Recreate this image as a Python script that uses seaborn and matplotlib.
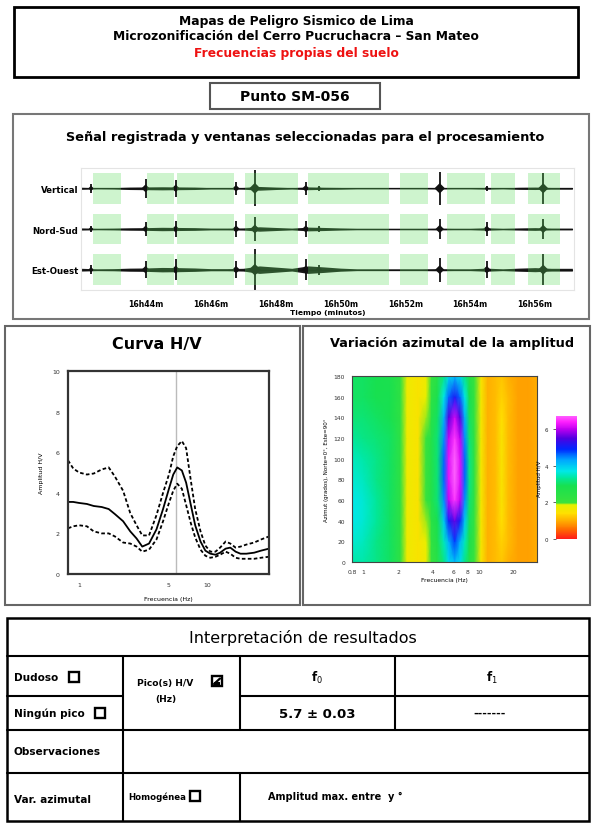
import matplotlib
matplotlib.use("Agg")
import matplotlib.pyplot as plt
import numpy as np
import seaborn as sns
from matplotlib.colors import LinearSegmentedColormap
from matplotlib.lines import Line2D
from matplotlib.patches import Rectangle
from matplotlib.ticker import FixedLocator, MultipleLocator, NullFormatter

# ── Signal record: time in minutes after 16h00 ──────────────────────
TRACE_NAMES = ["Vertical", "Nord-Sud", "Est-Ouest"]
WIN_START = [42.37, 44.05, 44.97, 47.06, 49.00, 51.83, 53.28, 54.63, 55.77]
WIN_END = [43.22, 44.88, 46.72, 48.69, 51.49, 52.69, 54.45, 55.37, 56.78]

BG_T = [42.0, 42.5, 43.0, 43.5, 44.0, 44.5, 45.0, 45.5, 46.0, 46.5, 47.0,
        47.5, 48.0, 48.5, 49.0, 49.5, 50.0, 50.5, 51.0, 51.5, 52.0, 52.5,
        53.0, 53.5, 54.0, 54.5, 55.0, 55.5, 56.0, 56.5, 57.0, 57.15]
BG_V = [0.06, 0.03, 0.04, 0.07, 0.08, 0.09, 0.08, 0.07, 0.04, 0.04, 0.05,
        0.11, 0.07, 0.04, 0.08, 0.06, 0.05, 0.03, 0.03, 0.03, 0.03, 0.03,
        0.04, 0.03, 0.03, 0.05, 0.03, 0.06, 0.07, 0.05, 0.05, 0.05]
BG_NS = [0.06, 0.04, 0.05, 0.07, 0.08, 0.10, 0.09, 0.08, 0.05, 0.05, 0.06,
         0.13, 0.09, 0.05, 0.11, 0.09, 0.06, 0.04, 0.04, 0.04, 0.04, 0.04,
         0.05, 0.04, 0.04, 0.07, 0.04, 0.06, 0.08, 0.05, 0.05, 0.05]
BG_EO = [0.08, 0.05, 0.06, 0.09, 0.10, 0.13, 0.12, 0.10, 0.06, 0.06, 0.08,
         0.22, 0.15, 0.08, 0.22, 0.16, 0.09, 0.05, 0.05, 0.05, 0.05, 0.05,
         0.06, 0.05, 0.05, 0.09, 0.05, 0.09, 0.12, 0.08, 0.08, 0.08]

EV_T = [42.31, 43.99, 44.92, 46.78, 47.36, 48.93, 49.34, 53.06, 54.51, 56.25]
EV_V = [0.25, 0.55, 0.50, 0.40, 1.05, 0.40, 0.15, 0.95, 0.15, 0.90]
EV_NS = [0.20, 0.40, 0.45, 0.45, 0.70, 0.45, 0.20, 0.60, 0.40, 0.60]
EV_EO = [0.25, 0.50, 0.60, 0.50, 1.20, 0.60, 0.30, 0.70, 0.50, 0.90]

TIME_MAJOR = [44, 46, 48, 50, 52, 54, 56]
TIME_LABELS = ["16h44m", "16h46m", "16h48m", "16h50m", "16h52m", "16h54m", "16h56m"]

# ── H/V curve ───────────────────────────────────────────────────────
HV_FREQ = [0.82, 0.9, 1.0, 1.15, 1.3, 1.5, 1.7, 1.9, 2.2, 2.5, 2.8, 3.1, 3.5,
           4.0, 4.5, 5.0, 5.4, 5.8, 6.3, 6.8, 7.4, 8.0, 8.8, 9.6, 10.5, 11.5,
           12.5, 13.8, 15.0, 16.5, 18.0, 20.0, 23.0, 26.0, 30.0]
HV_MEAN = [3.55, 3.55, 3.5, 3.45, 3.35, 3.3, 3.2, 2.95, 2.6, 2.1, 1.75, 1.35,
           1.5, 2.2, 3.2, 4.2, 4.9, 5.25, 5.1, 4.5, 3.4, 2.4, 1.6, 1.15, 1.0,
           0.95, 1.05, 1.25, 1.3, 1.1, 1.0, 1.0, 1.05, 1.15, 1.25]
HV_UP = [5.6, 5.2, 5.0, 4.9, 4.95, 5.15, 5.25, 4.8, 4.1, 3.0, 2.4, 1.9, 1.9,
         2.9, 4.0, 4.9, 5.8, 6.3, 6.55, 6.2, 4.6, 3.2, 2.1, 1.4, 1.1, 1.1,
         1.3, 1.6, 1.5, 1.3, 1.35, 1.45, 1.55, 1.7, 1.85]
HV_LO = [2.25, 2.35, 2.4, 2.35, 2.1, 2.0, 2.0, 1.85, 1.55, 1.5, 1.35, 1.1,
         1.2, 1.7, 2.6, 3.5, 4.1, 4.45, 4.2, 3.4, 2.5, 1.8, 1.2, 0.9, 0.8,
         0.85, 0.95, 1.1, 1.0, 0.8, 0.75, 0.75, 0.75, 0.8, 0.85]
F0 = 5.7

# ── Azimuthal amplitude (rows: azimuth, cols: frequency) ────────────
AZ_FREQ = [0.8, 1.0, 1.3, 1.7, 2.1, 2.4, 3.0, 3.5, 3.9, 4.4, 5.0, 5.5, 6.2,
           6.9, 7.6, 8.3, 9.2, 10.5, 12, 14, 15.8, 18, 22, 27, 33]
AZ_DEG = [0, 20, 40, 60, 80, 100, 120, 140, 160, 180]
AZ_AMP = [
    [3.4, 3.4, 3.2, 3.0, 2.3, 1.7, 1.5, 1.7, 2.1, 2.5, 3.2, 3.8, 4.1, 3.8, 3.2, 2.6, 2.0, 1.5, 1.0, 1.1, 1.2, 1.0, 0.9, 0.9, 1.0],
    [3.6, 3.5, 3.2, 3.0, 2.3, 1.7, 1.5, 1.8, 2.2, 2.7, 3.5, 4.2, 4.8, 4.2, 3.5, 2.8, 2.1, 1.6, 1.0, 1.1, 1.3, 1.1, 0.9, 0.9, 1.0],
    [3.7, 3.6, 3.3, 3.0, 2.3, 1.7, 1.5, 1.9, 2.4, 2.9, 4.0, 5.0, 5.6, 5.0, 4.0, 3.0, 2.1, 1.6, 1.0, 1.1, 1.4, 1.1, 0.9, 0.9, 1.0],
    [3.7, 3.6, 3.3, 3.0, 2.3, 1.7, 1.5, 2.0, 2.6, 3.1, 4.4, 6.0, 6.5, 6.0, 4.4, 3.1, 2.2, 1.6, 1.0, 1.1, 1.5, 1.1, 0.9, 0.9, 1.0],
    [3.6, 3.5, 3.2, 3.0, 2.3, 1.7, 1.5, 2.0, 2.6, 3.1, 4.6, 6.2, 6.7, 6.2, 4.6, 3.2, 2.2, 1.6, 1.0, 1.1, 1.5, 1.1, 0.9, 0.9, 1.0],
    [3.5, 3.4, 3.2, 3.0, 2.3, 1.7, 1.5, 2.0, 2.6, 3.1, 4.6, 6.2, 6.7, 6.2, 4.6, 3.2, 2.2, 1.6, 1.0, 1.1, 1.5, 1.1, 0.9, 0.9, 1.0],
    [3.3, 3.2, 3.1, 3.0, 2.3, 1.7, 1.5, 2.0, 2.6, 3.1, 4.4, 6.0, 6.5, 6.0, 4.4, 3.1, 2.2, 1.6, 1.0, 1.1, 1.5, 1.1, 0.9, 0.9, 1.0],
    [3.1, 3.1, 3.0, 2.9, 2.3, 1.7, 1.5, 1.9, 2.5, 3.0, 4.2, 5.5, 6.1, 5.5, 4.2, 3.0, 2.1, 1.6, 1.0, 1.1, 1.4, 1.1, 0.9, 0.9, 1.0],
    [3.0, 3.0, 2.9, 2.9, 2.3, 1.7, 1.5, 1.8, 2.3, 2.8, 3.7, 4.6, 5.1, 4.6, 3.7, 2.9, 2.1, 1.6, 1.0, 1.1, 1.3, 1.1, 0.9, 0.9, 1.0],
    [3.0, 3.0, 2.9, 2.8, 2.3, 1.7, 1.5, 1.7, 2.1, 2.5, 3.2, 3.8, 4.1, 3.8, 3.2, 2.6, 2.0, 1.5, 1.0, 1.1, 1.2, 1.0, 0.9, 0.9, 1.0],
]
AZ_TICKS = [0.8, 1, 2, 4, 6, 8, 10, 20]
AZ_TICK_LABELS = ["0.8", "1", "2", "4", "6", "8", "10", "20"]

# ── Figure helpers (pixel coords, origin top-left) ──────────────────
W, H = 592, 828


def frect(x0, y0, x1, y1):
    return [x0 / W, 1 - y1 / H, (x1 - x0) / W, (y1 - y0) / H]


def box(fig, x0, y0, x1, y1, lw=1.5, color="black"):
    fig.add_artist(Rectangle((x0 / W, 1 - y1 / H), (x1 - x0) / W, (y1 - y0) / H,
                             transform=fig.transFigure, fill=False, lw=lw,
                             edgecolor=color))


def hline(fig, x0, x1, y, lw=1.5):
    fig.add_artist(Line2D([x0 / W, x1 / W], [1 - y / H, 1 - y / H],
                          transform=fig.transFigure, color="black", lw=lw))


def vline(fig, x, y0, y1, lw=1.5):
    fig.add_artist(Line2D([x / W, x / W], [1 - y0 / H, 1 - y1 / H],
                          transform=fig.transFigure, color="black", lw=lw))


def txt(fig, x, y, s, **kw):
    kw.setdefault("va", "center")
    fig.text(x / W, 1 - y / H, s, **kw)


sns.set_style("white")
plt.rcParams["font.family"] = ["DejaVu Sans"]
plt.rcParams["text.color"] = "black"
plt.rcParams["axes.labelcolor"] = "black"

fig = plt.figure(figsize=(W / 100, H / 100), dpi=100)

# ── Header ──────────────────────────────────────────────────────────
box(fig, 14, 8, 578, 78, lw=2)
txt(fig, 296, 22, "Mapas de Peligro Sismico de Lima", ha="center", fontsize=8.8, fontweight="bold")
txt(fig, 296, 37, "Microzonificación del Cerro Pucruchacra – San Mateo", ha="center", fontsize=8.8, fontweight="bold")
txt(fig, 296, 53, "Frecuencias propias del suelo", ha="center", fontsize=8.8, fontweight="bold", color="#ee1111")

box(fig, 210, 84, 380, 110, lw=1.5, color="#555555")
txt(fig, 295, 97, "Punto SM-056", ha="center", fontsize=10, fontweight="bold")

# ── Signal panel ────────────────────────────────────────────────────
box(fig, 13, 115, 589, 320, lw=1.5, color="#777777")
txt(fig, 305, 138, "Señal registrada y ventanas seleccionadas para el procesamiento",
    ha="center", fontsize=9.3, fontweight="bold")

ax_sig = fig.add_axes(frect(81, 169, 574, 291))
centers = [2.5, 1.5, 0.5]
scale = 0.42
for c, bg, ev in zip(centers, [BG_V, BG_NS, BG_EO], [EV_V, EV_NS, EV_EO]):
    lo = [c - a * scale for a in bg]
    hi = [c + a * scale for a in bg]
    ax_sig.fill_between(BG_T, lo, hi, color="#1a1a1a", lw=0, zorder=2)
    sns.lineplot(x=BG_T, y=[c] * len(BG_T), ax=ax_sig, color="#111111", lw=0.9, zorder=2)
    ax_sig.vlines(EV_T, [c - a * scale for a in ev], [c + a * scale for a in ev],
                  color="#111111", lw=1.3, zorder=2)
    ax_sig.scatter(EV_T, [c] * len(EV_T), s=[30 * a for a in ev], marker="D",
                   color="#111111", zorder=2, lw=0)
    for t0, t1 in zip(WIN_START, WIN_END):
        ax_sig.fill_between([t0, t1], c - 0.38, c + 0.38, color="#5fdc5f",
                            alpha=0.3, lw=0, zorder=3)
ax_sig.set_xlim(42.0, 57.2)
ax_sig.set_ylim(0, 3)
ax_sig.set_yticks(centers)
ax_sig.set_yticklabels(TRACE_NAMES, fontsize=6.2, fontweight="bold")
ax_sig.xaxis.set_major_locator(FixedLocator(TIME_MAJOR))
ax_sig.set_xticklabels(TIME_LABELS, fontsize=5.6, fontweight="bold")
ax_sig.xaxis.set_minor_locator(FixedLocator([43, 45, 47, 49, 51, 53, 55, 57]))
ax_sig.tick_params(axis="x", which="both", length=2.5, width=0.6, pad=4, colors="#444444")
ax_sig.tick_params(axis="both", which="major", labelcolor="black")
ax_sig.tick_params(axis="y", length=0, pad=2)
ax_sig.set_xlabel("Tiempo (minutos)", fontsize=5.4, fontweight="bold", labelpad=1)
for s in ax_sig.spines.values():
    s.set_color("#e4e4e4")
    s.set_linewidth(0.8)

# ── H/V panel ───────────────────────────────────────────────────────
box(fig, 5, 327, 300, 606, lw=1.5, color="#666666")
txt(fig, 157, 344, "Curva H/V", ha="center", fontsize=11.5, fontweight="bold")

ax_hv = fig.add_axes(frect(68, 372, 269, 575))
ax_hv.axvline(F0, color="#bbbbbb", lw=1, zorder=1)
sns.lineplot(x=HV_FREQ, y=HV_MEAN, ax=ax_hv, color="black", lw=1.3, sort=False)
sns.lineplot(x=HV_FREQ, y=HV_UP, ax=ax_hv, color="black", lw=1.3, sort=False, linestyle=(0, (2, 1.3)))
sns.lineplot(x=HV_FREQ, y=HV_LO, ax=ax_hv, color="black", lw=1.3, sort=False, linestyle=(0, (2, 1.3)))
ax_hv.set_xscale("log")
ax_hv.set_xlim(0.82, 30)
ax_hv.set_ylim(0, 10)
ax_hv.xaxis.set_major_locator(FixedLocator([1, 5, 10]))
ax_hv.set_xticklabels(["1", "5", "10"])
ax_hv.xaxis.set_minor_locator(FixedLocator([0.9, 2, 3, 4, 6, 7, 8, 9, 20, 30]))
ax_hv.xaxis.set_minor_formatter(NullFormatter())
ax_hv.yaxis.set_major_locator(MultipleLocator(2))
ax_hv.yaxis.set_minor_locator(MultipleLocator(0.5))
ax_hv.tick_params(which="both", direction="inout", labelsize=4.5, width=0.8, colors="#333333")
ax_hv.tick_params(which="major", length=5)
ax_hv.tick_params(which="minor", length=3)
ax_hv.set_xlabel("Frecuencia (Hz)", fontsize=4.5, labelpad=6)
ax_hv.set_ylabel("Amplitud H/V", fontsize=4.5, labelpad=6)
for s in ax_hv.spines.values():
    s.set_color("#333333")
    s.set_linewidth(1.6)

# ── Azimuthal panel ─────────────────────────────────────────────────
box(fig, 303, 327, 590, 606, lw=1.5, color="#666666")
txt(fig, 452, 343, "Variación azimutal de la amplitud", ha="center", fontsize=9.3, fontweight="bold")

cmap = LinearSegmentedColormap.from_list("hv", [
    (0.0, "#ff1a1a"), (0.5 / 6.7, "#ff6a00"), (1.0 / 6.7, "#ffb000"),
    (1.4 / 6.7, "#ffe000"), (1.85 / 6.7, "#e4f000"), (1.95 / 6.7, "#3ce23c"),
    (2.9 / 6.7, "#18e050"), (3.35 / 6.7, "#00e8a0"), (3.7 / 6.7, "#00e8e8"),
    (4.3 / 6.7, "#00a8ff"), (4.9 / 6.7, "#0028ff"), (5.5 / 6.7, "#5000e0"),
    (6.0 / 6.7, "#c000f0"), (6.4 / 6.7, "#ff20ff"), (1.0, "#ff60ff"),
])
ax_az = fig.add_axes(frect(352, 377, 537, 563))
mesh = ax_az.pcolormesh(AZ_FREQ, AZ_DEG, np.array(AZ_AMP), shading="gouraud",
                        cmap=cmap, vmin=0, vmax=6.7, rasterized=True)
ax_az.set_xscale("log")
ax_az.set_xlim(0.8, 32)
ax_az.set_ylim(0, 180)
ax_az.xaxis.set_major_locator(FixedLocator(AZ_TICKS))
ax_az.set_xticklabels(AZ_TICK_LABELS)
ax_az.xaxis.set_minor_formatter(NullFormatter())
ax_az.yaxis.set_major_locator(MultipleLocator(20))
ax_az.yaxis.set_minor_locator(MultipleLocator(5))
ax_az.tick_params(which="both", direction="inout", labelsize=4.3, width=0.6, colors="#333333")
ax_az.tick_params(which="major", length=3)
ax_az.tick_params(which="minor", length=1.5)
ax_az.set_xlabel("Frecuencia (Hz)", fontsize=4.3, labelpad=2)
ax_az.set_ylabel("Azimut (grados), Norte=0°, Este=90°", fontsize=4, labelpad=3)
for s in ax_az.spines.values():
    s.set_color("#444444")
    s.set_linewidth(0.8)

cax = fig.add_axes(frect(556, 417, 577, 540))
cb = fig.colorbar(mesh, cax=cax, ticks=[0, 2, 4, 6])
cb.outline.set_visible(False)
cax.yaxis.set_ticks_position("left")
cax.yaxis.set_label_position("left")
cax.tick_params(labelsize=4, length=2, width=0.5)
cb.set_label("Amplitud H/V", fontsize=4, labelpad=2)

# ── Interpretation table ────────────────────────────────────────────
X0, X1, X2, X3, X4 = 7, 123, 240, 395, 589
Y0, Y1, Y2, Y3, Y4, Y5 = 619, 657, 697, 731, 774, 822
box(fig, X0, Y0, X4, Y5, lw=1.8)
for y in [Y1, Y3, Y4]:
    hline(fig, X0, X4, y)
hline(fig, X0, X1, Y2)
hline(fig, X2, X4, Y2)
vline(fig, X1, Y1, Y5)
vline(fig, X2, Y1, Y3)
vline(fig, X2, Y4, Y5)
vline(fig, X3, Y1, Y3)

txt(fig, 303, 638, "Interpretación de resultados", ha="center", fontsize=11.5)
txt(fig, 14, 678, "Dudoso", fontsize=7.6, fontweight="bold")
txt(fig, 14, 714, "Ningún pico", fontsize=7.6, fontweight="bold")
txt(fig, 14, 752, "Observaciones", fontsize=7.6, fontweight="bold")
txt(fig, 14, 800, "Var. azimutal", fontsize=7.6, fontweight="bold")
txt(fig, 128, 797, "Homogénea", fontsize=6.2, fontweight="bold")
txt(fig, 268, 797, "Amplitud max. entre  y °", fontsize=7, fontweight="bold")
txt(fig, 165, 684, "Pico(s) H/V", ha="center", fontsize=6.6, fontweight="bold")
txt(fig, 166, 700, "(Hz)", ha="center", fontsize=6.6, fontweight="bold")
txt(fig, 317, 678, "f$_0$", ha="center", fontsize=8.5, fontweight="bold")
txt(fig, 492, 678, "f$_1$", ha="center", fontsize=8.5, fontweight="bold")
txt(fig, 317, 714, "5.7 ± 0.03", ha="center", fontsize=9.5, fontweight="bold")
txt(fig, 490, 714, "-------", ha="center", fontsize=8, fontweight="bold")

for bx, by in [(74, 678), (100, 714), (195, 797), (217, 682)]:
    fig.add_artist(Rectangle(((bx - 5) / W, 1 - (by + 5) / H), 10 / W, 10 / H,
                             transform=fig.transFigure, fill=False, lw=1.7,
                             edgecolor="black"))
fig.add_artist(Line2D([214 / W, 220 / W], [1 - 685 / H, 1 - 679.5 / H],
                      transform=fig.transFigure, color="black", lw=1.6))
fig.add_artist(Rectangle((214 / W, 1 - 686 / H), 6 / W, 3 / H,
                         transform=fig.transFigure, color="black", lw=0))

fig.savefig("out.png", dpi=100)
